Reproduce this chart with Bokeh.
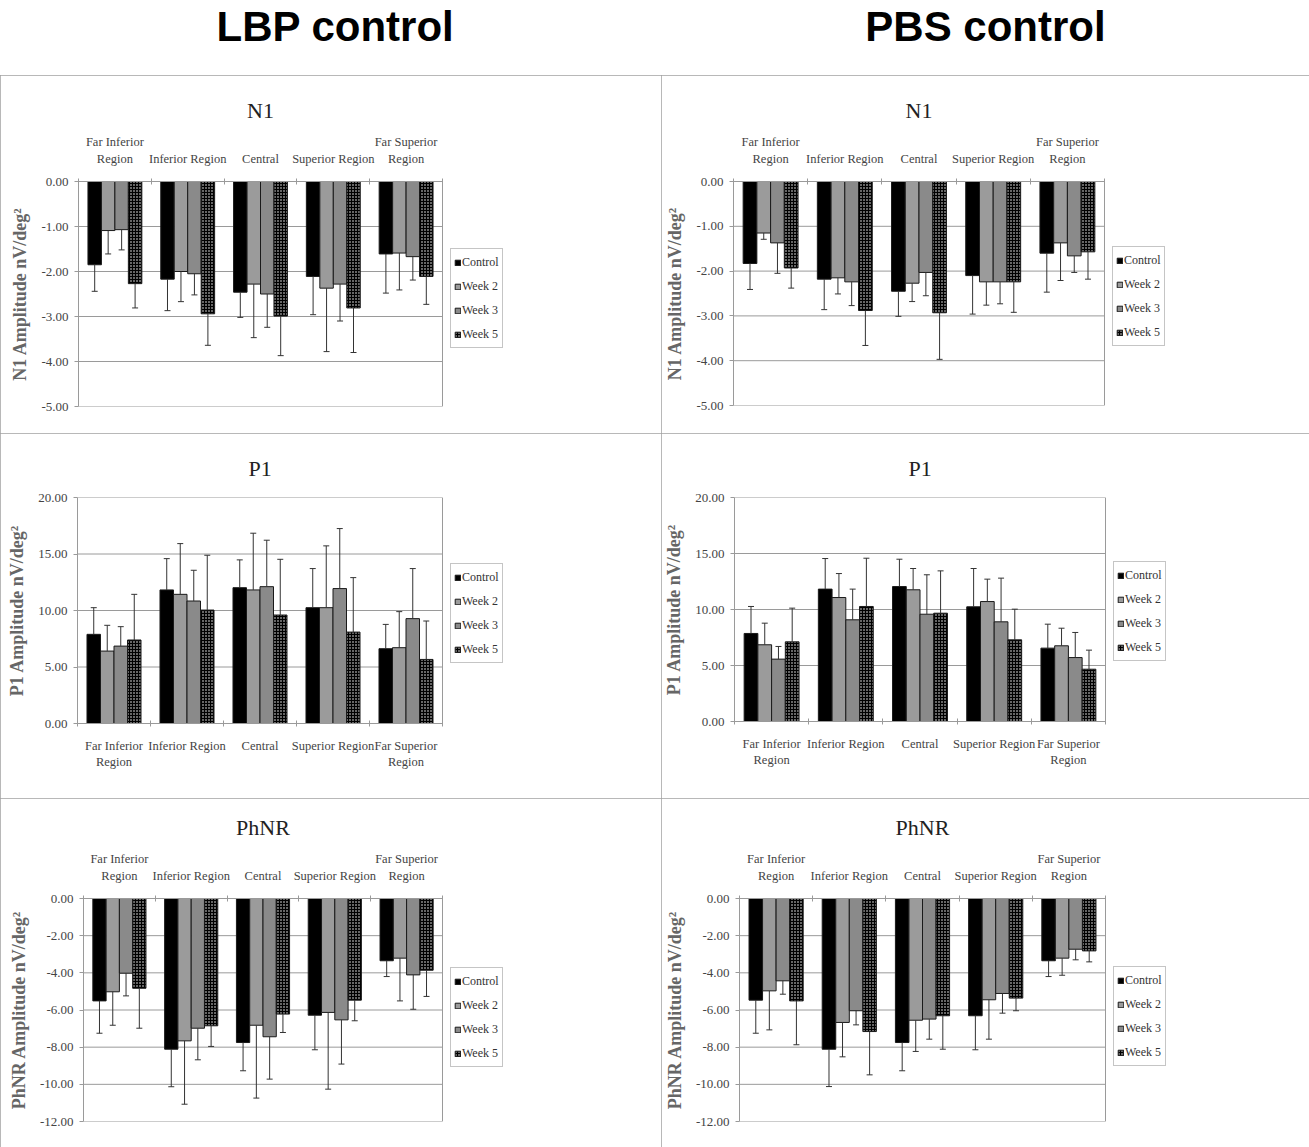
from bokeh.plotting import figure
from bokeh.models import (Range1d, Whisker, TeeHead, Legend, LegendItem, Span,
                          ColumnDataSource, LinearAxis, FixedTicker, NumeralTickFormatter)
from bokeh.transform import dodge
from bokeh.layouts import column, row
from bokeh.embed import file_html
from bokeh.resources import INLINE

# ---------------- data ----------------
regions = ["Far Inferior\nRegion", "Inferior Region", "Central", "Superior Region", "Far Superior\nRegion"]
series = ["Control", "Week 2", "Week 3", "Week 5"]
headers = ["LBP control", "PBS control"]
panel_titles = ["N1", "P1", "PhNR"]
y_labels = ["N1 Amplitude nV/deg\u00b2", "P1 Amplitude nV/deg\u00b2", "PhNR Amplitude nV/deg\u00b2"]
n1_ticks = [0, -1, -2, -3, -4, -5]
p1_ticks = [0, 5, 10, 15, 20]
phnr_ticks = [0, -2, -4, -6, -8, -10, -12]

# rows: Control, Week 2, Week 3, Week 5 ; columns follow regions
lbp_n1_mean = [[-1.85, -2.17, -2.46, -2.11, -1.61],
               [-1.09, -2.00, -2.28, -2.37, -1.59],
               [-1.07, -2.05, -2.50, -2.28, -1.67],
               [-2.27, -2.94, -2.99, -2.81, -2.11]]
lbp_n1_sd = [[0.59, 0.70, 0.56, 0.85, 0.87],
             [0.52, 0.67, 1.19, 1.41, 0.82],
             [0.45, 0.47, 0.74, 0.82, 0.52],
             [0.54, 0.70, 0.88, 0.99, 0.62]]
pbs_n1_mean = [[-1.83, -2.18, -2.45, -2.10, -1.60],
               [-1.15, -2.15, -2.27, -2.24, -1.37],
               [-1.37, -2.24, -2.03, -2.24, -1.66],
               [-1.93, -2.88, -2.93, -2.24, -1.57]]
pbs_n1_sd = [[0.58, 0.68, 0.56, 0.86, 0.87],
             [0.14, 0.36, 0.41, 0.52, 0.84],
             [0.68, 0.53, 0.52, 0.49, 0.37],
             [0.45, 0.78, 1.04, 0.68, 0.61]]
lbp_p1_mean = [[7.89, 11.82, 12.02, 10.25, 6.62],
               [6.41, 11.43, 11.82, 10.25, 6.71],
               [6.85, 10.84, 12.11, 11.94, 9.28],
               [7.39, 10.04, 9.60, 8.09, 5.67]]
lbp_p1_sd = [[2.36, 2.77, 2.46, 3.46, 2.15],
             [2.28, 4.49, 5.02, 5.47, 3.19],
             [1.72, 2.72, 4.11, 5.31, 4.43],
             [4.04, 4.85, 4.93, 4.82, 3.40]]
pbs_p1_mean = [[7.86, 11.82, 12.05, 10.24, 6.55],
               [6.85, 11.07, 11.76, 10.71, 6.76],
               [5.57, 9.08, 9.58, 8.90, 5.71],
               [7.11, 10.27, 9.67, 7.29, 4.67]]
pbs_p1_sd = [[2.41, 2.73, 2.44, 3.42, 2.14],
             [1.93, 2.14, 1.90, 2.00, 1.57],
             [1.13, 2.74, 3.52, 3.90, 2.24],
             [3.01, 4.31, 3.78, 2.74, 1.70]]
lbp_phnr_mean = [[-5.51, -8.11, -7.75, -6.28, -3.35],
                 [-5.02, -7.66, -6.82, -6.13, -3.21],
                 [-4.02, -6.98, -7.44, -6.53, -4.11],
                 [-4.83, -6.85, -6.22, -5.47, -3.86]]
lbp_phnr_sd = [[1.74, 2.02, 1.52, 1.86, 0.85],
               [1.80, 3.41, 3.92, 4.13, 2.30],
               [1.22, 1.70, 2.28, 2.38, 1.85],
               [2.15, 1.11, 0.99, 1.11, 1.41]]
pbs_phnr_mean = [[-5.47, -8.11, -7.75, -6.31, -3.35],
                 [-4.97, -6.67, -6.55, -5.45, -3.21],
                 [-4.43, -6.04, -6.49, -5.11, -2.73],
                 [-5.51, -7.16, -6.31, -5.36, -2.82]]
pbs_phnr_sd = [[1.78, 2.01, 1.52, 1.83, 0.85],
               [2.10, 1.85, 1.68, 2.12, 0.92],
               [0.72, 0.76, 1.08, 1.06, 0.57],
               [2.36, 2.33, 1.80, 0.68, 0.59]]

# ---------------- styles ----------------
SERIF = "Liberation Serif"
GRAY = "#9a9a9a"
BAR_W = 0.185
OFFSETS = [-1.5 * BAR_W, -0.5 * BAR_W, 0.5 * BAR_W, 1.5 * BAR_W]
BAR_STYLES = [
    dict(fill_color="black"),
    dict(fill_color="#9b9b9b"),
    dict(fill_color="#8a8a8a"),
    dict(fill_color="black", hatch_pattern="dot", hatch_color="white", hatch_scale=3, hatch_weight=1.6),
]
PANEL_CSS = {"outline": "1px solid #a0a0a0", "outline-offset": "-1px"}
EXTRA = 75                       # px of frame kept right of the plot area for the legend
TITLE_W = {"N1": 26.9, "P1": 23.2, "PhNR": 53.8}   # approx. rendered title widths (22px serif)

N = len(regions)
centers = [i + 0.5 for i in range(N)]       # category slot centres on the numeric x scale
bounds = list(range(N + 1))                  # category slot boundaries


def make_panel(title, ylabel, means, sds, y_start, y_end, ticks, above, fw, fh, bl, br, bt, bb,
               title_standoff, leg_y):
    total_fw = fw + EXTRA
    x_end = N * total_fw / fw
    p = figure(frame_width=total_fw, frame_height=fh, x_range=Range1d(0, x_end),
               y_range=Range1d(y_start, y_end), output_backend="svg", toolbar_location=None,
               x_axis_location=None, min_border_left=bl, min_border_right=br - EXTRA,
               min_border_top=bt, min_border_bottom=bb, background_fill_color="white",
               border_fill_color="white", outline_line_color=None)
    p.styles = PANEL_CSS
    p.xgrid.visible = False
    p.ygrid.visible = False

    # horizontal gridlines limited to the plot area (0..N), one per y tick
    p.segment(x0=[0] * len(ticks), x1=[N] * len(ticks), y0=ticks, y1=ticks,
              line_color=GRAY, line_width=1, level="underlay")

    yax = p.yaxis[0]
    yax.ticker = FixedTicker(ticks=ticks)
    yax.formatter = NumeralTickFormatter(format="0.00")
    yax.axis_line_color = GRAY
    yax.major_tick_line_color = GRAY
    yax.major_tick_in = 0
    yax.major_tick_out = 4
    yax.minor_tick_line_color = None
    yax.major_label_text_font = SERIF
    yax.major_label_text_font_size = "13px"
    yax.major_label_text_color = "#444444"
    yax.major_label_standoff = 6
    yax.axis_label = ylabel
    yax.axis_label_text_font = SERIF
    yax.axis_label_text_font_style = "bold"
    yax.axis_label_text_font_size = "18px"
    yax.axis_label_text_color = "#666666"
    yax.axis_label_standoff = 8

    # right edge of the plot area
    p.add_layout(Span(location=N, dimension="height", line_color=GRAY, line_width=1))

    side = "above" if above else "below"
    bnd = LinearAxis(ticker=FixedTicker(ticks=bounds), bounds=(0, N),
                     major_label_overrides={b: "" for b in bounds})
    bnd.axis_line_color = GRAY
    bnd.major_tick_line_color = GRAY
    bnd.major_tick_in = 3
    bnd.major_tick_out = 3
    bnd.minor_tick_line_color = None
    bnd.major_label_standoff = 0
    p.add_layout(bnd, side)

    cax = LinearAxis(ticker=FixedTicker(ticks=centers), bounds=(0, N),
                     major_label_overrides={c: r for c, r in zip(centers, regions)})
    cax.axis_line_color = None
    cax.major_tick_line_color = None
    cax.minor_tick_line_color = None
    cax.major_label_text_font = SERIF
    cax.major_label_text_font_size = "12.5px"
    cax.major_label_text_color = "#444444"
    cax.major_label_text_line_height = 1.15
    cax.major_label_standoff = 7 if above else 6
    p.add_layout(cax, side)

    p.title.text = title
    p.title.text_font = SERIF
    p.title.text_font_style = "normal"
    p.title.text_font_size = "22px"
    p.title.text_color = "#222222"
    p.title.align = "left"
    p.title.offset = fw / 2 - TITLE_W[title] / 2
    p.title.standoff = title_standoff

    negative = y_end <= 0
    data = {"xc": centers}
    for i in range(len(series)):
        data[f"m{i}"] = means[i]
        if negative:
            data[f"lo{i}"] = [m - s for m, s in zip(means[i], sds[i])]
            data[f"hi{i}"] = means[i]
        else:
            data[f"lo{i}"] = means[i]
            data[f"hi{i}"] = [m + s for m, s in zip(means[i], sds[i])]
    src = ColumnDataSource(data)

    items = []
    for i, name in enumerate(series):
        r = p.vbar(x=dodge("xc", OFFSETS[i]), top=f"m{i}", bottom=0,
                   width=BAR_W, source=src, line_color="#1a1a1a", line_width=1, **BAR_STYLES[i])
        items.append(LegendItem(label=name, renderers=[r]))
        head = TeeHead(size=6, line_color="#333333", line_width=1)
        wk = Whisker(base=dodge("xc", OFFSETS[i]), lower=f"lo{i}", upper=f"hi{i}",
                     source=src, line_color="#333333", line_width=1,
                     lower_head=head if negative else None, upper_head=None if negative else head,
                     level="overlay")
        p.add_layout(wk)

    # legend placed in the reserved strip right of the plot area
    leg = Legend(items=items, location=(fw + 8, leg_y))
    leg.border_line_color = "#8c8c8c"
    leg.border_line_width = 1
    leg.background_fill_color = "white"
    leg.label_text_font = SERIF
    leg.label_text_font_size = "12px"
    leg.label_text_color = "#333333"
    leg.glyph_width = 7
    leg.glyph_height = 7
    leg.label_standoff = 1
    leg.label_height = 20
    leg.spacing = 4
    leg.padding = 3
    leg.margin = 0
    p.add_layout(leg)
    return p


def make_header(text, w, align, off):
    h = figure(width=w, height=75, output_backend="svg", toolbar_location=None,
               x_axis_location=None, y_axis_location=None, min_border=0, min_border_top=8,
               outline_line_color=None, background_fill_color="white", border_fill_color="white")
    h.grid.visible = False
    h.title.text = text
    h.title.text_font = "Liberation Sans"
    h.title.text_font_style = "bold"
    h.title.text_font_size = "42px"
    h.title.text_color = "black"
    h.title.align = align
    h.title.offset = off
    h.title.standoff = 0
    return h


h1 = make_header(headers[0], 661, "left", 216)
h2 = make_header(headers[1], 648, "center", 0)

a1 = make_panel(panel_titles[0], y_labels[0], lbp_n1_mean, lbp_n1_sd, -5, 0, n1_ticks, True,
                364, 225, 78, 219, 103, 30, 20, 58)
a2 = make_panel(panel_titles[0], y_labels[0], pbs_n1_mean, pbs_n1_sd, -5, 0, n1_ticks, True,
                371, 224, 72, 205, 106, 28, 20, 59)
b1 = make_panel(panel_titles[1], y_labels[1], lbp_p1_mean, lbp_p1_sd, 0, 20, p1_ticks, False,
                365, 226, 77, 219, 62, 77, 34, 60)
b2 = make_panel(panel_titles[1], y_labels[1], pbs_p1_mean, pbs_p1_sd, 0, 20, p1_ticks, False,
                371, 224, 72, 205, 64, 77, 34, 60)
c1 = make_panel(panel_titles[2], y_labels[2], lbp_phnr_mean, lbp_phnr_sd, -12, 0, phnr_ticks, True,
                359, 223, 83, 219, 100, 26, 20, 54)
c2 = make_panel(panel_titles[2], y_labels[2], pbs_phnr_mean, pbs_phnr_sd, -12, 0, phnr_ticks, True,
                366, 223, 78, 204, 100, 26, 20, 55)

p = column(row(h1, h2), row(a1, a2), row(b1, b2), row(c1, c2))

open("out.html", "w").write(file_html(p, INLINE))
